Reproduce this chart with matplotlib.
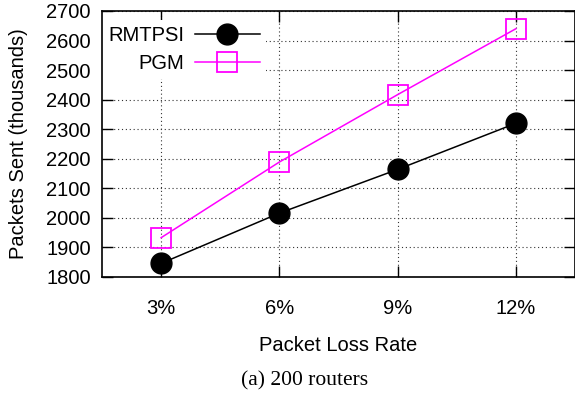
import matplotlib
matplotlib.use("Agg")
import matplotlib.pyplot as plt
import numpy as np

loss_rates = ["3%", "6%", "9%", "12%"]
rmtpsi = [1846, 2016, 2164, 2320]
pgm = [1933, 2189, 2417, 2640]

plt.rcParams['font.family'] = ['Liberation Sans', 'DejaVu Sans']

fig = plt.figure(figsize=(5.75, 3.97), dpi=100)
ax = fig.add_axes([0.1774, 0.3023, 0.8226, 0.670])

x = np.arange(1, len(loss_rates) + 1)
ax.plot(x, rmtpsi, color="black", lw=1.1, marker="o", markersize=15,
        markerfacecolor="black", label="RMTPSI")
ax.plot(x, pgm, color="#ff00ff", lw=1.1, marker="s", markersize=15,
        markerfacecolor="none", markeredgewidth=1.3, label="PGM")

ax.set_xlim(0.5, 4.5)
ax.set_ylim(1800, 2700)
ax.set_xticks(x)
ax.set_xticklabels(loss_rates)
ax.set_yticks(np.arange(1800, 2701, 100))
ax.tick_params(direction="in", length=8, width=1, labelsize=14.5,
               top=True, right=True, pad=8)
ax.tick_params(axis="x", pad=16)
ax.grid(True, color="#333333", linestyle=(0, (1, 2.5)), lw=0.8)
for s in ax.spines.values():
    s.set_linewidth(1.2)

ax.set_xlabel("Packet Loss Rate", fontsize=14.5, labelpad=13)
ax.set_ylabel("Packets Sent (thousands)", fontsize=14.5, labelpad=13)

leg = ax.legend(loc="upper left", bbox_to_anchor=(0.0, 0.966),
                markerfirst=False, fontsize=14.5,
                frameon=True, facecolor="white", edgecolor="none",
                framealpha=1, fancybox=False, handlelength=3.2,
                borderaxespad=0, labelspacing=0.45, handletextpad=0.55,
                borderpad=0.3)
leg._legend_box._children[1]._children[0].align = "right"
leg.set_zorder(2.4)  # keep the frame under the spines

fig.text(0.53, 0.040, "(a) 200 routers", ha="center", va="center",
         fontsize=15.5, family=["Liberation Serif", "DejaVu Serif"])

fig.savefig("out.png", dpi=100)
